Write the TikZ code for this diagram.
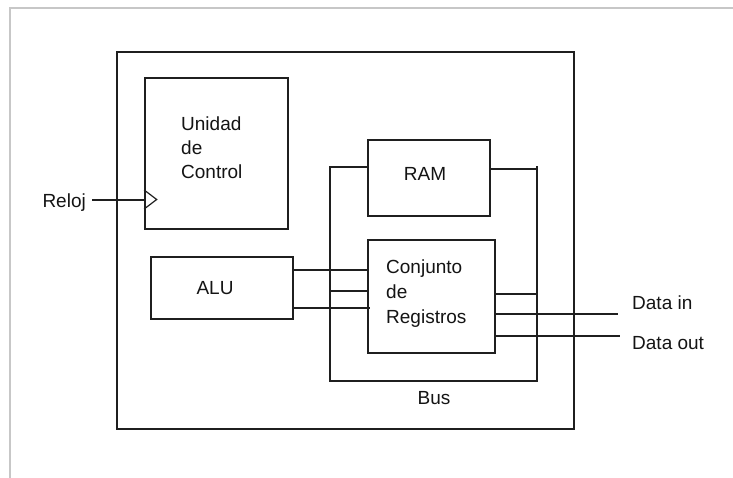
\documentclass[tikz,border=0pt]{standalone}
\usepackage{fontspec}
\setmainfont{Liberation Sans}
\begin{document}
\begin{tikzpicture}[x=1pt,y=-1pt,
  ln/.style={draw=black!88, line width=1.7pt},
  blk/.style={ln, rectangle, inner sep=0pt, fill=white},
  lbl/.style={inner sep=0pt, font=\fontsize{19}{24}\selectfont, text=black!92},
  frame/.style={draw=black!22, line width=2pt}]
\useasboundingbox (0,0) rectangle (733,478);
% page frame
\coordinate (fTL) at (10,8);
\coordinate (fTR) at (733,8);
\coordinate (fBL) at (10,478);
\draw[frame] (fBL) -- (fTL) -- (fTR);
% blocks
\node[blk, minimum width=457pt, minimum height=377pt] (cpu) at (345.5,240.5) {};
\node[blk, minimum width=143pt, minimum height=151pt] (uc) at (216.5,153.5) {};
\node[blk, minimum width=122pt, minimum height=76pt] (ram) at (429,178) {};
\node[blk, minimum width=142pt, minimum height=62pt] (alu) at (222,288) {};
\node[blk, minimum width=127pt, minimum height=113pt] (reg) at (431.5,296.5) {};
% labels
\node[lbl, anchor=north west, align=left] (tuc) at (181,117) {Unidad\\de\\Control};
\node[lbl] (tram) at (425,174) {RAM};
\node[lbl] (talu) at (215,288) {ALU};
\node[lbl, anchor=north west, align=left, font=\fontsize{19}{25}\selectfont] (treg) at (386,259.5) {Conjunto\\de\\Registros};
\node[lbl] (tbus) at (434,398) {Bus};
\node[lbl, anchor=east] (treloj) at (86,203) {Reloj};
\node[lbl, anchor=west] (tdin) at (632,303) {Data in};
\node[lbl, anchor=west] (tdout) at (632,343) {Data out};
% clock input
\coordinate (clk) at (92,200);
\draw[ln] (clk) -- (clk -| uc.west);
\coordinate (tri) at (156.7,199.5);
\draw[ln, line width=1.2pt, line join=miter] (uc.west |- 0,190) -- (tri) -- (uc.west |- 0,209);
% bus loop
\coordinate (bTL) at (330,167);
\coordinate (bBL) at (330,381);
\coordinate (bBR) at (537,381);
\coordinate (bTR) at (537,166);
\draw[ln] (ram.west |- bTL) -- (bTL) -- (bBL) -- (bBR) -- (bTR);
\draw[ln] (ram.east |- 0,169) -- (bTR |- 0,169);
% ALU to registers
\coordinate (a1) at (293,270);
\coordinate (a3) at (293,308);
\draw[ln] (a1) -- (a1 -| reg.west);
\draw[ln] (bTL |- 0,291) -- (reg.west |- 0,291);
\draw[ln] (a3) -- ([xshift=3pt]a3 -| reg.west);
% registers right side
\draw[ln] (reg.east |- 0,294) -- (bBR |- 0,294);
\coordinate (din) at (618,314);
\coordinate (dout) at (620,336);
\draw[ln] (din -| reg.east) -- (din);
\draw[ln] (dout -| reg.east) -- (dout);
\end{tikzpicture}
\end{document}
